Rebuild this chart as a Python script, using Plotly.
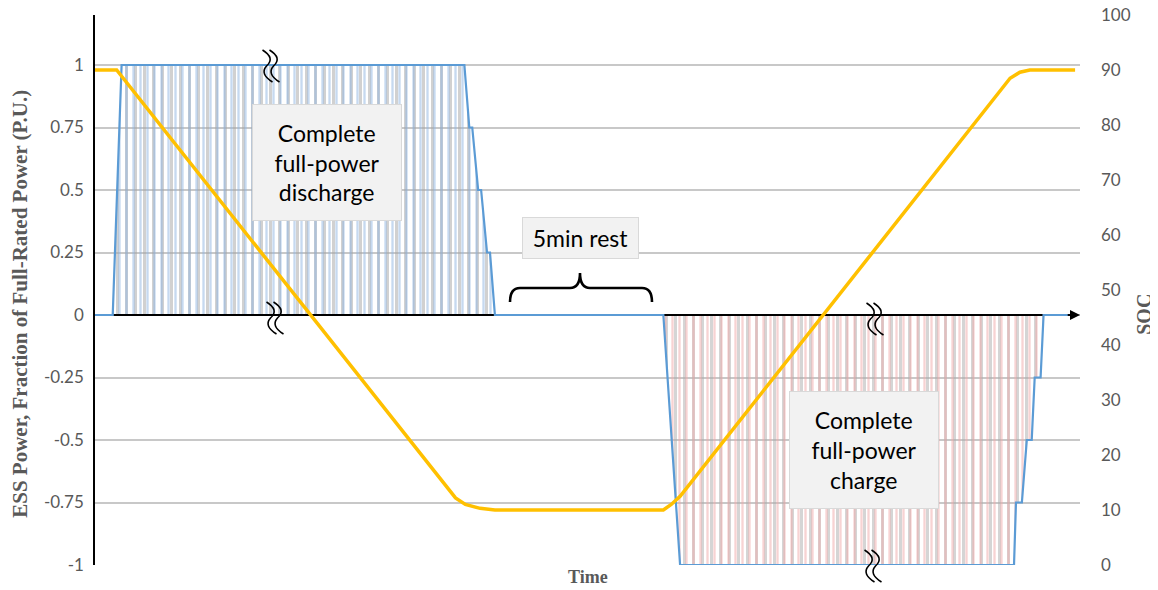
import plotly.graph_objects as go

# ---------------- data ----------------
time_power = [0, 1.8, 2.7, 37.5, 38.0, 38.3, 38.9, 39.2, 39.8, 40.1, 40.6,
              57.7, 59.4, 93.3, 93.5, 94.1, 94.6, 95.1, 95.4, 96.0, 96.3, 99.5]
power = [0, 0, 1, 1, 0.75, 0.75, 0.5, 0.5, 0.25, 0.25, 0,
         0, -1, -1, -0.75, -0.75, -0.5, -0.5, -0.25, -0.25, 0, 0]

time_soc = [0, 2.2, 36.6, 37.6, 39.1, 40.6, 57.7, 58.5, 59.4, 92.9, 93.9, 94.9, 99.5]
soc = [90, 90, 12.2, 11.0, 10.3, 10.0, 10.0, 11.0, 12.5, 88.5, 89.6, 90, 90]

power_ticks = [-1, -0.75, -0.5, -0.25, 0, 0.25, 0.5, 0.75, 1]
power_tick_text = ["-1", "-0.75", "-0.5", "-0.25", "0", "0.25", "0.5", "0.75", "1"]

discharge = [max(p, 0) for p in power]
charge = [min(p, 0) for p in power]

GRAY = "#595959"
fig = go.Figure()

# hatched fills (two overlaid line patterns)
for y, fg, size in [(discharge, "#A3A3A3", 9), (discharge, "#8DB4E2", 7),
                    (charge, "#ABABAB", 9), (charge, "#F0A8A8", 7)]:
    fig.add_trace(go.Scatter(
        x=time_power, y=y, mode="lines", line=dict(width=0),
        fill="tozeroy", fillcolor=fg,
        fillpattern=dict(shape="|", fgcolor=fg, bgcolor="rgba(0,0,0,0)",
                         size=size, solidity=0.33),
        hoverinfo="skip", showlegend=False))

# zero axis line
fig.add_trace(go.Scatter(x=[0, 99.3], y=[0, 0], mode="lines",
                         line=dict(color="black", width=2),
                         hoverinfo="skip", showlegend=False))

# power line
fig.add_trace(go.Scatter(x=time_power, y=power, mode="lines",
                         line=dict(color="#5B9BD5", width=2.2),
                         name="ESS Power", showlegend=False))

# SOC line
fig.add_trace(go.Scatter(x=time_soc, y=soc, mode="lines", yaxis="y2",
                         line=dict(color="#FFC000", width=3.5),
                         name="SOC", showlegend=False))

# ---------------- decorations (paper coordinates) ----------------
def px_x(px):
    return (px - 95) / 985

def px_y(py):
    return (565 - py) / 550

def break_mark(cx, cy):
    paths = []
    for off in (-3.5, 3.5):
        pts = [(-5, -16), (8, -8), (-1, 0), (-8, 8), (5, 16)]
        q = [(px_x(cx + off + dx), px_y(cy + dy)) for dx, dy in pts]
        paths.append("M %f,%f Q %f,%f %f,%f Q %f,%f %f,%f" % (
            q[0][0], q[0][1], q[1][0], q[1][1], q[2][0], q[2][1],
            q[3][0], q[3][1], q[4][0], q[4][1]))
    return paths

shapes = []
for cx, cy in [(271, 66), (275, 318), (875, 319), (873, 566)]:
    for p in break_mark(cx, cy):
        shapes.append(dict(type="path", path=p, xref="paper", yref="paper",
                           line=dict(color="black", width=1.6), layer="above"))

# curly brace over the rest period
bx0, bx1, bxm, bxr, bx3 = px_x(510), px_x(520), px_x(580), px_x(642), px_x(652)
by_end, by_base, by_cusp = px_y(302), px_y(288), px_y(273)
brace = ("M %f,%f Q %f,%f %f,%f L %f,%f Q %f,%f %f,%f Q %f,%f %f,%f L %f,%f Q %f,%f %f,%f" % (
    bx0, by_end, bx0, by_base, bx1, by_base,
    px_x(570), by_base, bxm, by_base, bxm, by_cusp,
    bxm, by_base, px_x(590), by_base,
    bxr, by_base, bx3, by_base, bx3, by_end))
shapes.append(dict(type="path", path=brace, xref="paper", yref="paper",
                   line=dict(color="black", width=2.6), layer="above"))

box_font = dict(family="Lato, Open Sans, sans-serif", size=23, color="black")
box_style = dict(xref="paper", yref="paper", showarrow=False, font=box_font,
                 bgcolor="#F2F2F2", bordercolor="#D9D9D9", borderwidth=1,
                 borderpad=2, align="center", xanchor="center", yanchor="middle")
annotations = [
    dict(x=px_x(327), y=px_y(163), text="Complete<br>full-power<br>discharge",
         width=144, height=111, **box_style),
    dict(x=px_x(580.5), y=px_y(238), text="5min rest",
         width=111, height=36, **box_style),
    dict(x=px_x(864), y=px_y(450), text="Complete<br>full-power<br>charge",
         width=144, height=112, **box_style),
    # arrow head on zero line
    dict(x=100, y=0, ax=98.6, ay=0, xref="x", yref="y", axref="x", ayref="y",
         showarrow=True, arrowhead=2, arrowsize=1, arrowwidth=2,
         arrowcolor="black", text=""),
    # axis titles
    dict(x=-0.0761, y=0.475, xref="paper", yref="paper", showarrow=False,
         xanchor="center", yanchor="middle",
         text="<b>ESS Power, Fraction of Full-Rated Power (P.U.)</b>",
         textangle=-90, font=dict(family="Liberation Serif, serif", size=21, color=GRAY)),
    dict(x=px_x(1144), y=0.455, xref="paper", yref="paper", showarrow=False,
         xanchor="center", yanchor="middle",
         text="<b>SOC</b>", textangle=-90,
         font=dict(family="Liberation Serif, serif", size=20, color=GRAY)),
    dict(x=0.5005, y=-0.022, xref="paper", yref="paper", showarrow=False,
         xanchor="center", yanchor="middle",
         text="<b>Time</b>",
         font=dict(family="Liberation Serif, serif", size=18, color=GRAY)),
]

tick_font = dict(family="Lato, Open Sans, sans-serif", size=17, color=GRAY)

# the page body adds an 8px offset; a 1150x582 figure fills the window exactly,
# and these margins put the plot area at x 95..1080, y 15..565 on screen
fig.update_layout(
    width=1150, height=582,
    margin=dict(l=87, r=78, t=7, b=25),
    paper_bgcolor="white", plot_bgcolor="white",
    showlegend=False,
    xaxis=dict(range=[0, 100], showgrid=False, zeroline=False, automargin=False,
               showticklabels=False, showline=False, ticks=""),
    yaxis=dict(range=[-1, 1.2], tickvals=power_ticks, ticktext=power_tick_text,
               gridcolor="#C8C8C8", gridwidth=1.5, zeroline=False, automargin=False,
               showline=True, linecolor="black", linewidth=1.5,
               ticks="", tickfont=tick_font, ticklabelstandoff=6),
    yaxis2=dict(range=[0, 100], dtick=10, overlaying="y", side="right",
                showgrid=False, zeroline=False, showline=False, ticks="",
                automargin=False, tickfont=tick_font, ticklabelstandoff=20,
                ticklabeloverflow="allow"),
    shapes=shapes,
    annotations=annotations,
)

fig.write_html("out.html")
